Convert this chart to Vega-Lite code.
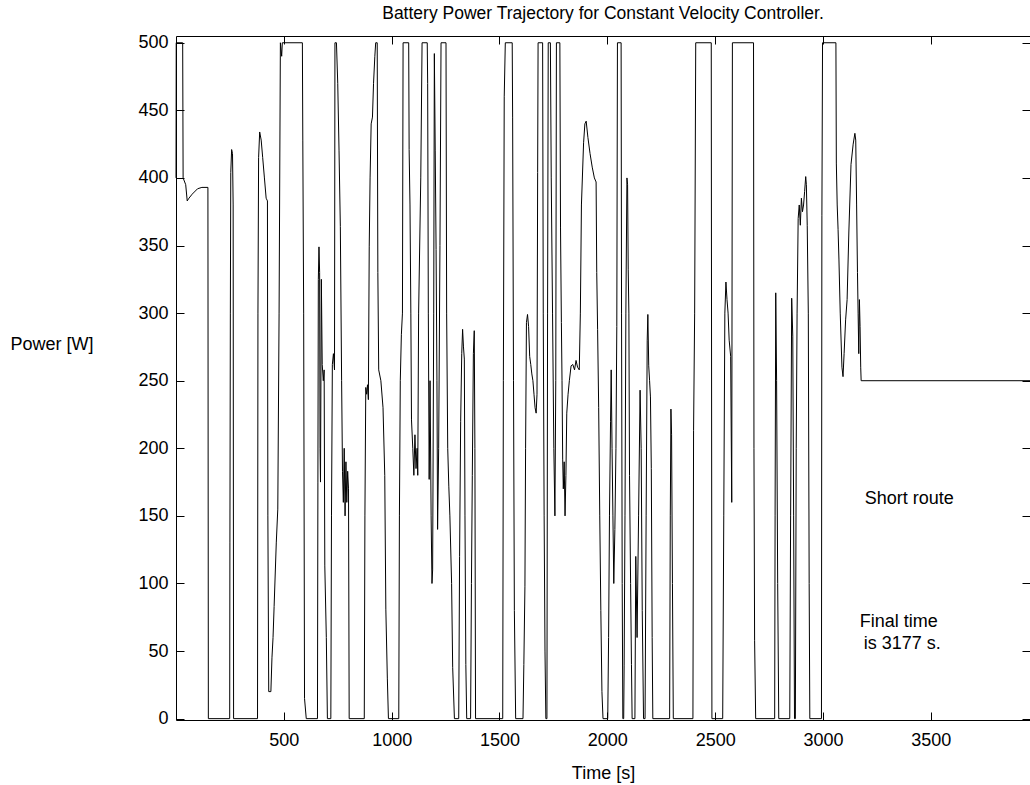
{
  "$schema": "https://vega.github.io/schema/vega-lite/v6.json",
  "width": 854,
  "height": 684,
  "autosize": {"type": "none"},
  "padding": {"left": 176, "top": 36, "right": 0, "bottom": 65},
  "background": "white",
  "config": {"view": {"stroke": null}, "font": "Liberation Sans"},
  "title": {"text": "Battery Power Trajectory for Constant Velocity Controller.", "fontSize": 17.5, "fontWeight": "normal", "font": "Liberation Sans", "color": "black", "anchor": "middle", "offset": 11},
  "datasets": {
    "power": [
      {"t":0,"P":400},{"t":1,"P":500},{"t":31,"P":500},{"t":33,"P":400},{"t":45,"P":395},{"t":52,"P":383},{"t":60,"P":385},{"t":75,"P":388},{"t":100,"P":392},{"t":120,"P":393},{"t":148,"P":393},{"t":150,"P":0},
      {"t":249,"P":0},{"t":250,"P":130},{"t":252,"P":300},{"t":254,"P":404},{"t":258,"P":421},{"t":262,"P":418},{"t":265,"P":380},{"t":267,"P":0},
      {"t":378,"P":0},{"t":380,"P":300},{"t":383,"P":415},{"t":388,"P":434},{"t":395,"P":428},{"t":402,"P":415},{"t":410,"P":400},{"t":418,"P":385},{"t":424,"P":383},{"t":426,"P":150},{"t":430,"P":20},{"t":440,"P":20},{"t":445,"P":45},{"t":450,"P":60},{"t":455,"P":83},{"t":465,"P":130},{"t":472,"P":155},{"t":478,"P":300},{"t":484,"P":500},{"t":490,"P":490},{"t":493,"P":500},
      {"t":586,"P":500},{"t":588,"P":428},{"t":592,"P":300},{"t":596,"P":15},{"t":604,"P":0},{"t":656,"P":0},
      {"t":658,"P":175},{"t":660,"P":325},{"t":663,"P":349},{"t":666,"P":330},{"t":668,"P":200},{"t":670,"P":175},{"t":674,"P":325},{"t":678,"P":262},{"t":683,"P":250},{"t":687,"P":258},{"t":690,"P":113},{"t":697,"P":60},{"t":702,"P":0},{"t":718,"P":0},
      {"t":721,"P":150},{"t":725,"P":262},{"t":730,"P":270},{"t":735,"P":258},{"t":737,"P":500},{"t":744,"P":500},{"t":750,"P":470},{"t":756,"P":420},{"t":762,"P":364},{"t":768,"P":250},{"t":772,"P":183},{"t":776,"P":160},{"t":780,"P":200},{"t":784,"P":150},{"t":788,"P":190},{"t":792,"P":160},{"t":796,"P":183},{"t":800,"P":170},{"t":803,"P":0},{"t":873,"P":0},
      {"t":876,"P":150},{"t":880,"P":245},{"t":884,"P":240},{"t":888,"P":247},{"t":892,"P":236},{"t":896,"P":349},{"t":900,"P":400},{"t":905,"P":440},{"t":911,"P":445},{"t":916,"P":470},{"t":922,"P":490},{"t":926,"P":500},{"t":933,"P":500},{"t":936,"P":330},{"t":940,"P":258},{"t":950,"P":250},{"t":960,"P":230},{"t":968,"P":180},{"t":973,"P":81},{"t":980,"P":30},{"t":985,"P":0},{"t":1033,"P":0},
      {"t":1036,"P":150},{"t":1040,"P":250},{"t":1045,"P":284},{"t":1050,"P":300},{"t":1053,"P":500},{"t":1079,"P":500},{"t":1081,"P":421},{"t":1085,"P":380},{"t":1089,"P":300},{"t":1092,"P":221},{"t":1098,"P":200},{"t":1103,"P":180},{"t":1108,"P":210},{"t":1113,"P":185},{"t":1118,"P":200},{"t":1121,"P":180},{"t":1125,"P":300},{"t":1135,"P":400},{"t":1141,"P":500},{"t":1165,"P":500},{"t":1167,"P":470},{"t":1170,"P":300},{"t":1174,"P":177},{"t":1178,"P":250},{"t":1183,"P":150},{"t":1187,"P":100},{"t":1190,"P":110},{"t":1195,"P":300},{"t":1198,"P":492},{"t":1202,"P":420},{"t":1206,"P":347},{"t":1210,"P":250},{"t":1213,"P":140},{"t":1218,"P":200},{"t":1224,"P":350},{"t":1229,"P":500},{"t":1252,"P":500},{"t":1255,"P":300},{"t":1260,"P":200},{"t":1265,"P":172},{"t":1270,"P":150},{"t":1278,"P":100},{"t":1283,"P":38},{"t":1291,"P":0},{"t":1311,"P":0},
      {"t":1315,"P":120},{"t":1320,"P":220},{"t":1325,"P":270},{"t":1329,"P":288},{"t":1333,"P":275},{"t":1337,"P":266},{"t":1340,"P":150},{"t":1344,"P":40},{"t":1348,"P":0},{"t":1366,"P":0},{"t":1370,"P":100},{"t":1374,"P":180},{"t":1379,"P":270},{"t":1383,"P":287},{"t":1386,"P":200},{"t":1389,"P":0},{"t":1515,"P":0},
      {"t":1518,"P":250},{"t":1522,"P":460},{"t":1527,"P":500},{"t":1559,"P":500},{"t":1561,"P":445},{"t":1565,"P":250},{"t":1569,"P":80},{"t":1575,"P":0},{"t":1609,"P":0},{"t":1613,"P":40},{"t":1618,"P":98},{"t":1621,"P":200},{"t":1625,"P":293},{"t":1630,"P":299},{"t":1635,"P":290},{"t":1640,"P":268},{"t":1645,"P":262},{"t":1650,"P":255},{"t":1655,"P":250},{"t":1660,"P":240},{"t":1665,"P":230},{"t":1670,"P":226},{"t":1674,"P":240},{"t":1677,"P":404},{"t":1679,"P":500},{"t":1700,"P":500},{"t":1703,"P":300},{"t":1707,"P":150},{"t":1711,"P":50},{"t":1715,"P":0},{"t":1720,"P":0},{"t":1723,"P":300},{"t":1726,"P":500},{"t":1736,"P":500},{"t":1740,"P":400},{"t":1746,"P":300},{"t":1752,"P":200},{"t":1757,"P":150},{"t":1761,"P":250},{"t":1764,"P":500},{"t":1780,"P":500},{"t":1783,"P":363},{"t":1787,"P":293},{"t":1790,"P":250},{"t":1793,"P":192},{"t":1796,"P":170},{"t":1800,"P":190},{"t":1804,"P":150},{"t":1808,"P":180},{"t":1812,"P":226},{"t":1818,"P":240},{"t":1824,"P":250},{"t":1832,"P":261},{"t":1840,"P":262},{"t":1848,"P":258},{"t":1855,"P":265},{"t":1862,"P":260},{"t":1870,"P":258},{"t":1875,"P":300},{"t":1880,"P":380},{"t":1890,"P":426},{"t":1896,"P":440},{"t":1902,"P":442},{"t":1910,"P":430},{"t":1920,"P":418},{"t":1930,"P":408},{"t":1940,"P":400},{"t":1948,"P":397},{"t":1951,"P":330},{"t":1955,"P":288},{"t":1960,"P":230},{"t":1965,"P":150},{"t":1970,"P":80},{"t":1975,"P":20},{"t":1980,"P":0},{"t":2002,"P":0},
      {"t":2006,"P":60},{"t":2010,"P":150},{"t":2015,"P":220},{"t":2018,"P":258},{"t":2022,"P":200},{"t":2026,"P":150},{"t":2030,"P":100},{"t":2035,"P":140},{"t":2040,"P":200},{"t":2044,"P":290},{"t":2047,"P":500},{"t":2064,"P":500},{"t":2066,"P":300},{"t":2069,"P":100},{"t":2072,"P":0},{"t":2076,"P":0},{"t":2078,"P":39},{"t":2082,"P":150},{"t":2086,"P":300},{"t":2091,"P":400},{"t":2094,"P":395},{"t":2097,"P":332},{"t":2100,"P":300},{"t":2103,"P":180},{"t":2108,"P":100},{"t":2112,"P":40},{"t":2115,"P":0},
      {"t":2128,"P":0},{"t":2132,"P":120},{"t":2138,"P":60},{"t":2145,"P":150},{"t":2152,"P":243},{"t":2157,"P":200},{"t":2162,"P":80},{"t":2168,"P":0},{"t":2175,"P":0},{"t":2180,"P":150},{"t":2185,"P":280},{"t":2188,"P":299},{"t":2192,"P":261},{"t":2196,"P":250},{"t":2200,"P":238},{"t":2204,"P":185},{"t":2208,"P":60},{"t":2211,"P":0},{"t":2289,"P":0},{"t":2292,"P":150},{"t":2295,"P":229},{"t":2298,"P":210},{"t":2302,"P":100},{"t":2306,"P":0},{"t":2397,"P":0},{"t":2400,"P":213},{"t":2405,"P":300},{"t":2410,"P":500},{"t":2482,"P":500},{"t":2485,"P":0},{"t":2535,"P":0},
      {"t":2540,"P":150},{"t":2545,"P":300},{"t":2550,"P":323},{"t":2555,"P":310},{"t":2560,"P":300},{"t":2565,"P":280},{"t":2572,"P":268},{"t":2577,"P":160},{"t":2580,"P":500},{"t":2678,"P":500},{"t":2680,"P":200},{"t":2683,"P":58},{"t":2688,"P":0},{"t":2776,"P":0},{"t":2778,"P":150},{"t":2781,"P":315},{"t":2785,"P":250},{"t":2790,"P":100},{"t":2795,"P":0},{"t":2846,"P":0},
      {"t":2850,"P":150},{"t":2855,"P":311},{"t":2860,"P":283},{"t":2864,"P":150},{"t":2868,"P":0},{"t":2872,"P":0},{"t":2876,"P":200},{"t":2880,"P":300},{"t":2885,"P":370},{"t":2890,"P":380},{"t":2895,"P":365},{"t":2900,"P":385},{"t":2905,"P":375},{"t":2910,"P":380},{"t":2915,"P":390},{"t":2920,"P":401},{"t":2923,"P":395},{"t":2927,"P":365},{"t":2932,"P":300},{"t":2936,"P":100},{"t":2939,"P":0},{"t":2993,"P":0},
      {"t":2995,"P":372},{"t":2998,"P":500},{"t":3060,"P":500},{"t":3062,"P":411},{"t":3066,"P":380},{"t":3070,"P":362},{"t":3074,"P":340},{"t":3080,"P":300},{"t":3088,"P":260},{"t":3093,"P":253},{"t":3098,"P":270},{"t":3105,"P":295},{"t":3112,"P":310},{"t":3120,"P":360},{"t":3130,"P":410},{"t":3140,"P":425},{"t":3148,"P":433},{"t":3152,"P":428},{"t":3156,"P":380},{"t":3160,"P":330},{"t":3163,"P":300},{"t":3166,"P":270},{"t":3169,"P":310},{"t":3172,"P":290},{"t":3175,"P":260},{"t":3177,"P":250},{"t":3960,"P":250}
    ],
    "notes": [
      {"t":3194,"P":162.5,"label":"Short route"},
      {"t":3171,"P":71.4,"label":"Final time"},
      {"t":3189,"P":55.4,"label":"is 3177 s."}
    ]
  },
  "layer": [
    {
      "data": {"name": "power"},
      "mark": {"type": "line", "color": "black", "strokeWidth": 1},
      "encoding": {
        "x": {"field": "t", "type": "quantitative",
          "scale": {"domain": [0, 3960], "nice": false, "zero": false},
          "axis": {"orient": "bottom", "values": [500,1000,1500,2000,2500,3000,3500], "format": "d", "grid": false,
            "tickSize": -8, "tickColor": "black", "domainColor": "black", "labelColor": "black",
            "labelFont": "Liberation Sans", "labelFontSize": 18, "labelPadding": 19,
            "title": "Time [s]", "titleFont": "Liberation Sans", "titleFontSize": 18, "titleFontWeight": "normal", "titleColor": "black",
            "titleBaseline": "middle", "titleY": 53}},
        "y": {"field": "P", "type": "quantitative",
          "scale": {"domain": [-1, 505], "nice": false, "zero": false},
          "axis": {"orient": "left", "values": [0,50,100,150,200,250,300,350,400,450,500], "format": "d", "grid": false,
            "tickSize": -8, "tickColor": "black", "domainColor": "black", "labelColor": "black",
            "labelFont": "Liberation Sans", "labelFontSize": 18, "labelPadding": 16,
            "title": "Power [W]", "titleFont": "Liberation Sans", "titleFontSize": 18, "titleFontWeight": "normal", "titleColor": "black",
            "titleAngle": 0, "titleAlign": "left", "titleBaseline": "middle", "titleX": -166, "titleY": 308}}
      }
    },
    {
      "data": {"name": "notes"},
      "mark": {"type": "text", "align": "left", "baseline": "middle", "fontSize": 18, "font": "Liberation Sans", "color": "black"},
      "encoding": {
        "x": {"field": "t", "type": "quantitative",
          "scale": {"domain": [0, 3960], "nice": false, "zero": false},
          "axis": {"orient": "top", "values": [500,1000,1500,2000,2500,3000,3500], "grid": false, "labels": false, "title": null,
            "tickSize": -8, "tickColor": "black", "domainColor": "black"}},
        "y": {"field": "P", "type": "quantitative",
          "scale": {"domain": [-1, 505], "nice": false, "zero": false},
          "axis": {"orient": "right", "values": [0,50,100,150,200,250,300,350,400,450,500], "grid": false, "labels": false, "title": null,
            "tickSize": -8, "tickColor": "black", "domain": false}},
        "text": {"field": "label"}
      }
    }
  ],
  "resolve": {"axis": {"x": "independent", "y": "independent"}}
}
